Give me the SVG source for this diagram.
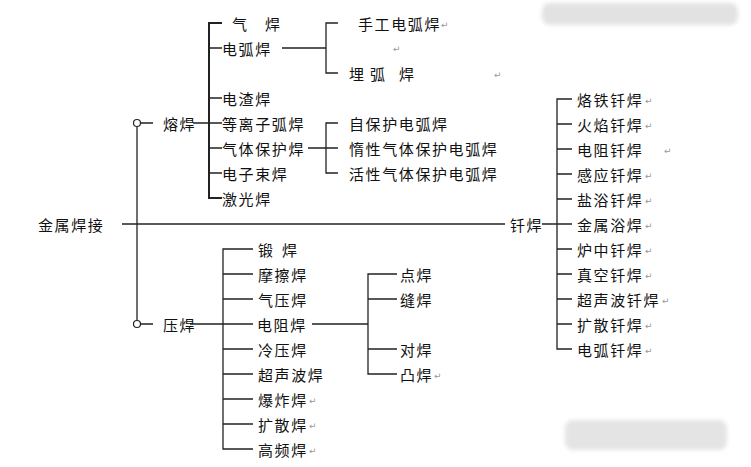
<svg xmlns="http://www.w3.org/2000/svg" width="751" height="467" viewBox="0 0 751 467">
<style>
text{font-family:"Noto Sans CJK SC","Noto Sans CJK TC",sans-serif;font-size:15px;fill:#111;dominant-baseline:central;letter-spacing:1.6px}
.rm{font-family:"DejaVu Sans",sans-serif;font-size:9px;fill:#999;letter-spacing:0}
.ln{stroke:#222;stroke-width:1.3;fill:none}
.thick{stroke-width:2}
</style>
<defs>
<filter id="blur" x="-10%" y="-50%" width="120%" height="200%"><feGaussianBlur stdDeviation="2"/></filter>
</defs>
<rect width="751" height="467" fill="#fff"/>
<rect x="542" y="3" width="196" height="22" rx="8" fill="#e2e2e2" filter="url(#blur)"/>
<rect x="565" y="420" width="162" height="30" rx="8" fill="#e4e4e4" filter="url(#blur)"/>
<g id="connectors">
<path class="ln" d="M122 224H505"/>
<path class="ln" d="M137 127V320"/>
<path class="ln" d="M140.5 123H153M193 123H222"/>
<path class="ln thick" d="M222 23H209V198H222"/>
<path class="ln" d="M209 48H222M209 98H222M209 148H222M209 173H222"/>
<path class="ln" d="M282 48H326M338 23H326V73H338"/>
<path class="ln" d="M308 148H338M338 123H326V173H338"/>
<path class="ln" d="M542 224H572M572 99H557V349H572"/>
<path class="ln" d="M557 124H572M557 149H572M557 174H572M557 199H572M557 249H572M557 274H572M557 299H572M557 324H572"/>
<path class="ln" d="M140.5 324H153M190 324H253M253 249H223V449H253"/>
<path class="ln" d="M223 274H253M223 299H253M223 349H253M223 374H253M223 399H253M223 424H253"/>
<path class="ln" d="M312 324H368M397 274H368V374H397M368 299H397M368 349H397"/>
<circle cx="137" cy="123" r="3.5" fill="#fff" stroke="#222" stroke-width="1.2"/>
<circle cx="137" cy="324" r="3.5" fill="#fff" stroke="#222" stroke-width="1.2"/>
</g>
<g id="root"><text x="38" y="224">金属焊接</text></g>
<g id="ronghan"><text x="163" y="123">熔焊</text></g>
<g id="yahan"><text x="163" y="324">压焊</text></g>
<g id="qianhan"><text x="510" y="224">钎焊</text></g>
<g id="qihan"><text y="23"><tspan x="232">气</tspan><tspan x="265">焊</tspan></text></g>
<g id="dianhuhan"><text x="222" y="48">电弧焊</text></g>
<g id="shougong"><text x="358" y="23">手工电弧焊</text><text class="rm" x="441" y="25">↵</text></g>
<g id="maihu"><text y="73"><tspan x="349">埋</tspan><tspan x="370">弧</tspan><tspan x="399">焊</tspan></text></g>
<g id="marks1"><text class="rm" x="393" y="49">↵</text><text class="rm" x="494" y="75">↵</text></g>
<g id="dianzha"><text x="222" y="98">电渣焊</text></g>
<g id="denglizi"><text x="222" y="123">等离子弧焊</text></g>
<g id="qiti"><text x="222" y="148">气体保护焊</text></g>
<g id="dianzishu"><text x="222" y="173">电子束焊</text></g>
<g id="jiguang"><text x="222" y="198">激光焊</text></g>
<g id="zibaohu"><text x="349" y="123">自保护电弧焊</text></g>
<g id="duoxing"><text x="349" y="148">惰性气体保护电弧焊</text></g>
<g id="huoxing"><text x="349" y="173">活性气体保护电弧焊</text></g>
<g id="q1"><text x="577" y="99">烙铁钎焊</text><text class="rm" x="645" y="101">↵</text></g>
<g id="q2"><text x="577" y="124">火焰钎焊</text><text class="rm" x="645" y="126">↵</text></g>
<g id="q3"><text x="577" y="149">电阻钎焊</text><text class="rm" x="664" y="151">↵</text></g>
<g id="q4"><text x="577" y="174">感应钎焊</text><text class="rm" x="645" y="176">↵</text></g>
<g id="q5"><text x="577" y="199">盐浴钎焊</text><text class="rm" x="645" y="201">↵</text></g>
<g id="q6"><text x="577" y="224">金属浴焊</text><text class="rm" x="645" y="226">↵</text></g>
<g id="q7"><text x="577" y="249">炉中钎焊</text><text class="rm" x="645" y="251">↵</text></g>
<g id="q8"><text x="577" y="274">真空钎焊</text><text class="rm" x="645" y="276">↵</text></g>
<g id="q9"><text x="577" y="299">超声波钎焊</text><text class="rm" x="662" y="301">↵</text></g>
<g id="q10"><text x="577" y="324">扩散钎焊</text><text class="rm" x="645" y="326">↵</text></g>
<g id="q11"><text x="577" y="349">电弧钎焊</text><text class="rm" x="645" y="351">↵</text></g>
<g id="y1"><text y="249"><tspan x="258">锻</tspan><tspan x="282">焊</tspan></text></g>
<g id="y2"><text x="258" y="274">摩擦焊</text></g>
<g id="y3"><text x="258" y="299">气压焊</text></g>
<g id="y4"><text x="257" y="324">电阻焊</text></g>
<g id="y5"><text x="258" y="349">冷压焊</text></g>
<g id="y6"><text x="258" y="374">超声波焊</text></g>
<g id="y7"><text x="258" y="399">爆炸焊</text><text class="rm" x="309" y="401">↵</text></g>
<g id="y8"><text x="258" y="424">扩散焊</text><text class="rm" x="309" y="426">↵</text></g>
<g id="y9"><text x="258" y="449">高频焊</text><text class="rm" x="309" y="451">↵</text></g>
<g id="d1"><text x="400" y="274">点焊</text></g>
<g id="d2"><text x="400" y="299">缝焊</text></g>
<g id="d3"><text x="400" y="349">对焊</text></g>
<g id="d4"><text x="400" y="374">凸焊</text><text class="rm" x="434" y="376">↵</text></g>
</svg>
